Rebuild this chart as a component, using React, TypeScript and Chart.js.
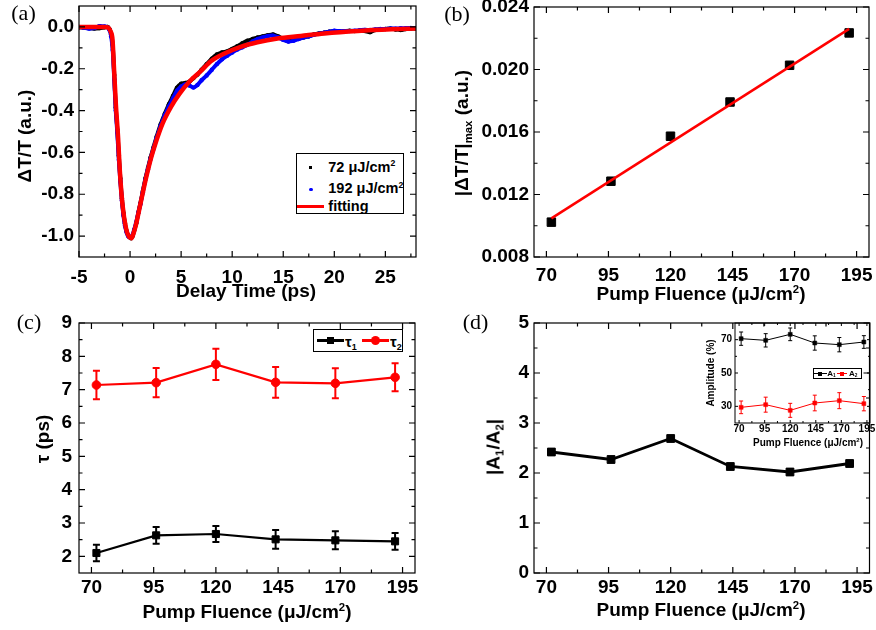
import React, { useEffect, useRef } from "react";
import { Chart, registerables } from "chart.js";

Chart.register(...registerables);

const SANS = "'Liberation Sans', Arial, Helvetica, sans-serif";
const SERIF = "'Liberation Serif', 'Times New Roman', Times, serif";

// ---------- panel (a): transient curves ----------
const tData = [-5, -4.5, -4, -3.5, -3, -2.5, -2.2, -2.0, -1.85, -1.7,
  -1.55, -1.4, -1.25, -1.1, -0.95, -0.8, -0.65, -0.5, -0.35, -0.2,
  -0.05, 0.1, 0.25, 0.4, 0.6, 0.8, 1.0, 1.25, 1.5, 1.75,
  2.0, 2.3, 2.6, 3.0, 3.4, 3.8, 4.2, 4.6, 5.0, 5.4,
  5.8, 6.2, 6.6, 7.0, 7.5, 8.0, 8.5, 9.0, 9.5, 10,
  10.5, 11, 11.5, 12, 12.5, 13, 13.5, 14, 14.5, 15,
  15.5, 16, 16.5, 17, 17.5, 18, 18.5, 19, 19.5, 20,
  20.5, 21, 21.5, 22, 22.5, 23, 23.5, 24, 24.5, 25,
  25.5, 26, 26.5, 27, 27.5, 28];
const v72 = [-0.002, -0.004, -0.006, -0.008, -0.006, -0.002, 0.0, -0.012, -0.035, -0.085,
  -0.23, -0.385, -0.49, -0.615, -0.725, -0.82, -0.89, -0.94, -0.975, -0.995,
  -1.005, -1.01, -1.0, -0.975, -0.94, -0.89, -0.845, -0.785, -0.725, -0.675,
  -0.625, -0.575, -0.525, -0.465, -0.415, -0.37, -0.33, -0.29, -0.272, -0.268,
  -0.262, -0.245, -0.228, -0.205, -0.178, -0.152, -0.132, -0.122, -0.117, -0.105,
  -0.092, -0.078, -0.066, -0.058, -0.05, -0.045, -0.04, -0.036, -0.045, -0.058,
  -0.068, -0.062, -0.055, -0.05, -0.045, -0.036, -0.031, -0.028, -0.023, -0.02,
  -0.022, -0.02, -0.018, -0.02, -0.018, -0.02, -0.025, -0.015, -0.012, -0.01,
  -0.008, -0.012, -0.015, -0.01, -0.008, -0.008];
const v192 = [0.0, -0.004, -0.008, -0.006, 0.004, 0.002, -0.002, -0.016, -0.045, -0.11,
  -0.25, -0.4, -0.505, -0.635, -0.74, -0.83, -0.9, -0.95, -0.98, -1.0,
  -1.005, -1.005, -0.995, -0.97, -0.935, -0.89, -0.85, -0.79, -0.73, -0.68,
  -0.632, -0.582, -0.532, -0.472, -0.422, -0.38, -0.342, -0.305, -0.285, -0.275,
  -0.28, -0.29, -0.278, -0.255, -0.232, -0.205, -0.178, -0.155, -0.138, -0.122,
  -0.108, -0.097, -0.085, -0.07, -0.058, -0.05, -0.043, -0.042, -0.05, -0.062,
  -0.07, -0.066, -0.058, -0.05, -0.045, -0.038, -0.032, -0.028, -0.023, -0.018,
  -0.02, -0.02, -0.02, -0.018, -0.016, -0.014, -0.015, -0.012, -0.01, -0.01,
  -0.008, -0.008, -0.006, -0.006, -0.005, -0.005];
const tFit = [-5, -4, -3, -2.5, -2.2, -2.05, -1.9, -1.72, -1.56, -1.39,
  -1.17, -1.0, -0.74, -0.41, -0.15, 0.14, 0.35, 0.57, 1.06, 1.56,
  2.05, 2.54, 3.19, 4.01, 4.83, 5.8, 6.9, 7.88, 9.19, 10.83,
  12.47, 14.44, 16.73, 19.02, 22.3, 25.58, 28];
const vFit = [0.0, 0.0, 0.0, 0.0, -0.002, -0.008, -0.022, -0.06, -0.21, -0.37,
  -0.53, -0.69, -0.85, -0.96, -1.0, -1.01, -0.985, -0.947, -0.836, -0.724,
  -0.628, -0.549, -0.461, -0.382, -0.32, -0.262, -0.213, -0.165, -0.128, -0.095,
  -0.073, -0.055, -0.043, -0.031, -0.019, -0.011, -0.007];
const aXTicks = [-5, 0, 5, 10, 15, 20, 25];
const aYTicks = [-1.0, -0.8, -0.6, -0.4, -0.2, 0.0];

// ---------- fluence panels ----------
const fluence = [72, 96, 120, 144, 168, 192];
const fluenceTicks = [70, 95, 120, 145, 170, 195];

const dTmax = [0.01023, 0.01285, 0.01573, 0.01792, 0.02027, 0.02234];
const fitFluence = [72, 192];
const fitDTmax = [0.01047, 0.0226];
const bYTicks = [0.008, 0.012, 0.016, 0.02, 0.024];

const tau1 = [2.1, 2.63, 2.67, 2.51, 2.48, 2.45];
const tau1Err = [0.25, 0.25, 0.24, 0.28, 0.27, 0.25];
const tau2 = [7.14, 7.21, 7.76, 7.22, 7.19, 7.37];
const tau2Err = [0.43, 0.44, 0.47, 0.46, 0.45, 0.42];
const cYTicks = [2, 3, 4, 5, 6, 7, 8, 9];

const ratio = [2.42, 2.27, 2.69, 2.13, 2.02, 2.19];
const dYTicks = [0, 1, 2, 3, 4, 5];

const ampA1 = [70.6, 69.6, 73.2, 68.0, 67.0, 68.6];
const ampA1Err = [4.0, 4.0, 3.8, 4.3, 4.3, 3.8];
const ampA2 = [29.4, 31.0, 27.6, 32.0, 33.4, 31.6];
const ampA2Err = [3.8, 4.5, 4.2, 4.7, 4.8, 4.3];
const insetYTicks = [30, 50, 70];

// ---------- helpers ----------
const pts = (xs: number[], ys: number[]) => xs.map((x, i) => ({ x, y: ys[i] }));

function minorTicks(majors: number[], min: number, max: number): number[] {
  const step = Math.abs(majors[1] - majors[0]);
  const lo = Math.min(...majors);
  const out: number[] = [];
  for (let v = lo - step / 2; v < max; v += step) {
    if (v > min + 1e-9 && v < max - 1e-9) out.push(v);
  }
  return out;
}

function makeFrame(cfg: { xMajor: number[]; xMinor: number[]; yMajor: number[]; yMinor: number[]; major: number; minor: number; lw: number }) {
  return {
    id: "frame",
    afterDraw(chart: any) {
      const { ctx, chartArea } = chart;
      const { left, right, top, bottom } = chartArea;
      const x = chart.scales.x, y = chart.scales.y;
      ctx.save();
      ctx.strokeStyle = "#000";
      ctx.lineWidth = cfg.lw;
      ctx.strokeRect(left, top, right - left, bottom - top);
      ctx.beginPath();
      const dx = (vals: number[], len: number) => vals.forEach((v) => {
        const p = x.getPixelForValue(v);
        if (p < left - 0.5 || p > right + 0.5) return;
        ctx.moveTo(p, bottom); ctx.lineTo(p, bottom - len);
        ctx.moveTo(p, top); ctx.lineTo(p, top + len);
      });
      const dy = (vals: number[], len: number) => vals.forEach((v) => {
        const p = y.getPixelForValue(v);
        if (p < top - 0.5 || p > bottom + 0.5) return;
        ctx.moveTo(left, p); ctx.lineTo(left + len, p);
        ctx.moveTo(right, p); ctx.lineTo(right - len, p);
      });
      dx(cfg.xMajor, cfg.major); dx(cfg.xMinor, cfg.minor);
      dy(cfg.yMajor, cfg.major); dy(cfg.yMinor, cfg.minor);
      ctx.stroke();
      ctx.restore();
    },
  };
}

const errorBars = {
  id: "errbars",
  beforeDatasetsDraw(chart: any) {
    const { ctx } = chart;
    const x = chart.scales.x, y = chart.scales.y;
    chart.data.datasets.forEach((ds: any) => {
      if (!ds.errors) return;
      ctx.save();
      ctx.strokeStyle = ds.borderColor;
      ctx.lineWidth = ds.errW;
      ctx.beginPath();
      ds.data.forEach((p: any, j: number) => {
        const px = x.getPixelForValue(p.x);
        const y1 = y.getPixelForValue(p.y - ds.errors[j]);
        const y2 = y.getPixelForValue(p.y + ds.errors[j]);
        ctx.moveTo(px, y1); ctx.lineTo(px, y2);
        ctx.moveTo(px - ds.capW, y1); ctx.lineTo(px + ds.capW, y1);
        ctx.moveTo(px - ds.capW, y2); ctx.lineTo(px + ds.capW, y2);
      });
      ctx.stroke();
      ctx.restore();
    });
  },
};

type AxisSpec = { min: number; max: number; ticks: number[]; fmt: (v: number) => string; pad: number; size: number };

function baseOptions(o: { x: AxisSpec; y: AxisSpec; yWidth: number; xHeight: number; padding: any }) {
  const axis = (a: AxisSpec, isX: boolean) => ({
    type: "linear",
    min: a.min,
    max: a.max,
    grid: { display: false, drawTicks: false },
    border: { display: false },
    afterBuildTicks: (s: any) => { s.ticks = a.ticks.map((v) => ({ value: v })); },
    afterFit: (s: any) => {
      if (isX) { s.height = o.xHeight; s.paddingLeft = 0; s.paddingRight = 0; }
      else { s.width = o.yWidth; s.paddingTop = 0; s.paddingBottom = 0; }
    },
    ticks: {
      autoSkip: false, maxRotation: 0, minRotation: 0, padding: a.pad, color: "#000",
      font: { family: SANS, size: a.size, weight: "bold" },
      callback: (v: any) => a.fmt(Number(v)),
    },
  });
  return {
    responsive: false,
    animation: false,
    events: [],
    layout: { padding: o.padding },
    plugins: { legend: { display: false }, tooltip: { enabled: false } },
    scales: { x: axis(o.x, true), y: axis(o.y, false) },
  };
}

const intFmt = (v: number) => String(Math.round(v));
const fluX = (pad: number, size: number, min = 65, max = 200): AxisSpec => ({ min, max, ticks: fluenceTicks, fmt: intFmt, pad, size });

// ---------- chart builders ----------
const buildA = () => ({
  type: "scatter",
  data: {
    datasets: [
      { data: pts(tFit, vFit), showLine: true, borderColor: "#ff0000", backgroundColor: "#ff0000", borderWidth: 4.5, pointRadius: 0, cubicInterpolationMode: "monotone" },
      { data: pts(tData, v192), showLine: true, borderColor: "#0000ff", backgroundColor: "#0000ff", borderWidth: 4, pointRadius: 2.2, pointBorderWidth: 0, tension: 0.3 },
      { data: pts(tData, v72), showLine: true, borderColor: "#000000", backgroundColor: "#000000", borderWidth: 4, pointRadius: 2.2, pointBorderWidth: 0, tension: 0.3 },
    ],
  },
  options: baseOptions({
    x: { min: -5, max: 28, ticks: aXTicks, fmt: intFmt, pad: 9, size: 19 },
    y: { min: -1.1, max: 0.1, ticks: aYTicks, fmt: (v) => (Math.abs(v) < 1e-9 ? 0 : v).toFixed(1), pad: 5, size: 19 },
    yWidth: 79, xHeight: 58, padding: { left: 0, top: 6, right: 22, bottom: 0 },
  }),
  plugins: [makeFrame({ xMajor: aXTicks, xMinor: minorTicks(aXTicks, -5, 28), yMajor: aYTicks, yMinor: minorTicks(aYTicks, -1.1, 0.1), major: 6, minor: 3.5, lw: 1.2 })],
});

const buildB = () => ({
  type: "scatter",
  data: {
    datasets: [
      { data: pts(fitFluence, fitDTmax), showLine: true, borderColor: "#ff0000", borderWidth: 2.5, pointRadius: 0 },
      { data: pts(fluence, dTmax), showLine: false, borderColor: "#000", backgroundColor: "#000", pointStyle: "rect", pointRadius: 6, pointBorderWidth: 1 },
    ],
  },
  options: baseOptions({
    x: fluX(7, 19),
    y: { min: 0.008, max: 0.024, ticks: bYTicks, fmt: (v) => v.toFixed(3), pad: 5, size: 19 },
    yWidth: 96, xHeight: 58, padding: { left: 0, top: 6, right: 6, bottom: 0 },
  }),
  plugins: [makeFrame({ xMajor: fluenceTicks, xMinor: minorTicks(fluenceTicks, 65, 200), yMajor: bYTicks, yMinor: minorTicks(bYTicks, 0.008, 0.024), major: 6, minor: 3.5, lw: 1.2 })],
});

const buildC = () => ({
  type: "scatter",
  data: {
    datasets: [
      { data: pts(fluence, tau1), errors: tau1Err, errW: 2, capW: 3.5, showLine: true, borderColor: "#000", backgroundColor: "#000", borderWidth: 2.2, pointStyle: "rect", pointRadius: 5, pointBorderWidth: 1 },
      { data: pts(fluence, tau2), errors: tau2Err, errW: 2, capW: 3.5, showLine: true, borderColor: "#ff0000", backgroundColor: "#ff0000", borderWidth: 2.2, pointStyle: "circle", pointRadius: 4.3, pointBorderWidth: 1 },
    ],
  },
  options: baseOptions({
    x: fluX(3, 19),
    y: { min: 1.5, max: 9, ticks: cYTicks, fmt: intFmt, pad: 7, size: 19 },
    yWidth: 79, xHeight: 57, padding: { left: 0, top: 8, right: 23, bottom: 0 },
  }),
  plugins: [errorBars, makeFrame({ xMajor: fluenceTicks, xMinor: minorTicks(fluenceTicks, 65, 200), yMajor: cYTicks, yMinor: minorTicks(cYTicks, 1.5, 9), major: 6, minor: 3.5, lw: 1.2 })],
});

const buildD = () => ({
  type: "scatter",
  data: {
    datasets: [
      { data: pts(fluence, ratio), showLine: true, borderColor: "#000", backgroundColor: "#000", borderWidth: 2.8, pointStyle: "rect", pointRadius: 5.5, pointBorderWidth: 1 },
    ],
  },
  options: baseOptions({
    x: fluX(3, 19),
    y: { min: 0, max: 5, ticks: dYTicks, fmt: intFmt, pad: 5, size: 19 },
    yWidth: 96, xHeight: 57, padding: { left: 0, top: 8, right: 6, bottom: 0 },
  }),
  plugins: [makeFrame({ xMajor: fluenceTicks, xMinor: minorTicks(fluenceTicks, 65, 200), yMajor: dYTicks, yMinor: minorTicks(dYTicks, 0, 5), major: 6, minor: 3.5, lw: 1.2 })],
});

const buildInset = () => ({
  type: "scatter",
  data: {
    datasets: [
      { data: pts(fluence, ampA1), errors: ampA1Err, errW: 1, capW: 2, showLine: true, borderColor: "#000", backgroundColor: "#000", borderWidth: 1, pointStyle: "rect", pointRadius: 2.8, pointBorderWidth: 0.5 },
      { data: pts(fluence, ampA2), errors: ampA2Err, errW: 1, capW: 2, showLine: true, borderColor: "#ff0000", backgroundColor: "#ff0000", borderWidth: 1, pointStyle: "rect", pointRadius: 2.8, pointBorderWidth: 0.5 },
    ],
  },
  options: baseOptions({
    x: fluX(0, 10, 66, 198),
    y: { min: 20, max: 80, ticks: insetYTicks, fmt: intFmt, pad: 3, size: 10 },
    yWidth: 45, xHeight: 22, padding: { left: 0, top: 8, right: 6, bottom: 0 },
  }),
  plugins: [errorBars, makeFrame({ xMajor: fluenceTicks, xMinor: minorTicks(fluenceTicks, 66, 198), yMajor: insetYTicks, yMinor: minorTicks(insetYTicks, 20, 80), major: 3, minor: 2, lw: 1 })],
});

// ---------- React pieces ----------
function ChartCanvas({ left, top, width, height, build }: { left: number; top: number; width: number; height: number; build: () => any }) {
  const ref = useRef<HTMLCanvasElement | null>(null);
  useEffect(() => {
    const c = new Chart(ref.current as HTMLCanvasElement, build());
    return () => c.destroy();
  }, []);
  return (
    <div style={{ position: "absolute", left, top, width, height }}>
      <canvas ref={ref} width={width} height={height} style={{ width, height, display: "block" }} />
    </div>
  );
}

function Txt({ x, y, size, rot, left, serif, bold = true, children }: any) {
  const tr = left ? "translate(0,-50%)" : `translate(-50%,-50%)${rot ? " rotate(-90deg)" : ""}`;
  return (
    <div style={{ position: "absolute", left: x, top: y, transform: tr, fontFamily: serif ? SERIF : SANS, fontSize: size, fontWeight: bold ? "bold" : "normal", lineHeight: 1, whiteSpace: "nowrap", color: "#000" }}>
      {children}
    </div>
  );
}
const Sup = ({ children }: any) => <span style={{ fontSize: "0.6em", position: "relative", top: "-0.6em" }}>{children}</span>;
const Sub = ({ children }: any) => <span style={{ fontSize: "0.6em", position: "relative", top: "0.35em" }}>{children}</span>;
const Box = ({ x, y, w, h, bg, border, round }: any) => (
  <div style={{ position: "absolute", left: x, top: y, width: w, height: h, background: bg || "transparent", border: border || "none", boxSizing: "border-box", borderRadius: round ? "50%" : 0 }} />
);

const fluenceTitle = (<>Pump Fluence (μJ/cm<Sup>2</Sup>)</>);

export default function App() {
  return (
    <div style={{ position: "absolute", left: 0, top: 0, width: 876, height: 630, background: "#fff", overflow: "hidden" }}>
      <ChartCanvas left={0} top={0} width={438} height={315} build={buildA} />
      <ChartCanvas left={438} top={0} width={438} height={315} build={buildB} />
      <ChartCanvas left={0} top={315} width={438} height={315} build={buildC} />
      <ChartCanvas left={438} top={315} width={438} height={315} build={buildD} />
      <ChartCanvas left={690} top={315} width={186} height={130} build={buildInset} />

      {/* panel labels */}
      <Txt x={23.5} y={12.5} size={22} serif bold={false}>(a)</Txt>
      <Txt x={457} y={13.5} size={22} serif bold={false}>(b)</Txt>
      <Txt x={29} y={321.5} size={22} serif bold={false}>(c)</Txt>
      <Txt x={475.5} y={321.5} size={22} serif bold={false}>(d)</Txt>

      {/* axis titles */}
      <Txt x={246} y={289.5} size={19}>Delay Time (ps)</Txt>
      <Txt x={24} y={136} size={19} rot>ΔT/T (a.u.)</Txt>
      <Txt x={701} y={293} size={19}>{fluenceTitle}</Txt>
      <Txt x={460.5} y={132.5} size={19} rot>|ΔT/T|<Sub>max</Sub> (a.u.)</Txt>
      <Txt x={247} y={611} size={19}>{fluenceTitle}</Txt>
      <Txt x={42} y={439} size={19} rot>τ (ps)</Txt>
      <Txt x={701} y={609} size={19}>{fluenceTitle}</Txt>
      <Txt x={493} y={446.5} size={19} rot>|A<Sub>1</Sub>/A<Sub>2</Sub>|</Txt>
      <Txt x={808} y={443} size={10}>{fluenceTitle}</Txt>
      <Txt x={710.5} y={373} size={10} rot>Amplitude (%)</Txt>

      {/* legend (a) */}
      <Box x={296} y={153.3} w={108} h={61} border="1.3px solid #000" bg="#fff" />
      <Box x={309.2} y={165.8} w={3} h={3} bg="#000" />
      <Box x={309} y={187.6} w={3.6} h={3.6} bg="#0000ff" round />
      <Box x={297.3} y={205.2} w={26.7} h={3} bg="#ff0000" />
      <Txt x={328.3} y={166.7} size={14.5} left>72 μJ/cm<Sup>2</Sup></Txt>
      <Txt x={328.3} y={188} size={14.5} left>192 μJ/cm<Sup>2</Sup></Txt>
      <Txt x={328.3} y={205.5} size={14.5} left>fitting</Txt>

      {/* legend (c) */}
      <Box x={313} y={329} w={90} h={23} border="1.5px solid #000" bg="#fff" />
      <Box x={317} y={339.4} w={27} h={2.2} bg="#000" />
      <Box x={326.5} y={337} w={7} h={7} bg="#000" />
      <Txt x={345} y={341} size={15} left>τ<Sub>1</Sub></Txt>
      <Box x={362} y={339.4} w={27} h={2.2} bg="#ff0000" />
      <Box x={370.5} y={336} w={9} h={9} bg="#ff0000" round />
      <Txt x={390} y={341} size={15} left>τ<Sub>2</Sub></Txt>

      {/* inset legend */}
      <Box x={812.7} y={367.7} w={49.3} h={11.6} border="1px solid #000" bg="#fff" />
      <Box x={814} y={373} w={12.7} h={1} bg="#000" />
      <Box x={818} y={371.5} w={4} h={4} bg="#000" />
      <Txt x={827.3} y={373.5} size={8} left>A<Sub>1</Sub></Txt>
      <Box x={837.3} y={373} w={9.4} h={1} bg="#ff0000" />
      <Box x={840} y={371.5} w={4} h={4} bg="#ff0000" />
      <Txt x={849} y={373.5} size={8} left>A<Sub>2</Sub></Txt>
    </div>
  );
}
